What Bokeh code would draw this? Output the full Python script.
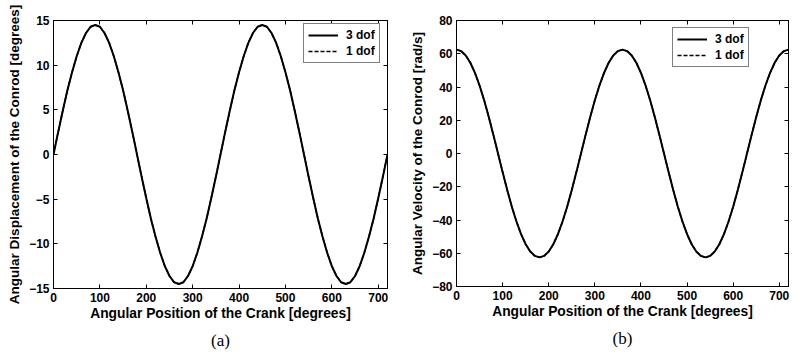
from bokeh.plotting import figure
from bokeh.layouts import row
from bokeh.models import (LinearAxis, Range1d, Legend, LegendItem, Title,
                          FixedTicker, CustomJSTickFormatter)
from bokeh.embed import file_html
from bokeh.resources import INLINE

# ---------------- data ----------------
crank_angle = [0, 10, 20, 30, 40, 50, 60, 70, 80, 90, 100, 110, 120, 130, 140, 150, 160, 170,
               180, 190, 200, 210, 220, 230, 240, 250, 260, 270, 280, 290, 300, 310, 320, 330,
               340, 350, 360, 370, 380, 390, 400, 410, 420, 430, 440, 450, 460, 470, 480, 490,
               500, 510, 520, 530, 540, 550, 560, 570, 580, 590, 600, 610, 620, 630, 640, 650,
               660, 670, 680, 690, 700, 710, 720]

disp_3dof = [0, 2.5, 4.9, 7.2, 9.2, 11.0, 12.5, 13.6, 14.3, 14.5, 14.3, 13.6, 12.5, 11.0, 9.2,
             7.2, 4.9, 2.5, 0, -2.5, -4.9, -7.2, -9.2, -11.0, -12.5, -13.6, -14.3, -14.5, -14.3,
             -13.6, -12.5, -11.0, -9.2, -7.2, -4.9, -2.5, 0,
             2.5, 4.9, 7.2, 9.2, 11.0, 12.5, 13.6, 14.3, 14.5, 14.3, 13.6, 12.5, 11.0, 9.2,
             7.2, 4.9, 2.5, 0, -2.5, -4.9, -7.2, -9.2, -11.0, -12.5, -13.6, -14.3, -14.5, -14.3,
             -13.6, -12.5, -11.0, -9.2, -7.2, -4.9, -2.5, 0]
disp_1dof = [0, 2.5, 4.9, 7.2, 9.2, 11.0, 12.5, 13.6, 14.3, 14.5, 14.3, 13.6, 12.5, 11.0, 9.2,
             7.2, 4.9, 2.5, 0, -2.5, -4.9, -7.2, -9.2, -11.0, -12.5, -13.6, -14.3, -14.5, -14.3,
             -13.6, -12.5, -11.0, -9.2, -7.2, -4.9, -2.5, 0,
             2.5, 4.9, 7.2, 9.2, 11.0, 12.5, 13.6, 14.3, 14.5, 14.3, 13.6, 12.5, 11.0, 9.2,
             7.2, 4.9, 2.5, 0, -2.5, -4.9, -7.2, -9.2, -11.0, -12.5, -13.6, -14.3, -14.5, -14.3,
             -13.6, -12.5, -11.0, -9.2, -7.2, -4.9, -2.5, 0]

vel_3dof = [62.5, 61.6, 59.0, 54.6, 48.5, 40.9, 32.0, 22.0, 11.2, 0, -11.2, -22.0, -32.0, -40.9,
            -48.5, -54.6, -59.0, -61.6, -62.5, -61.6, -59.0, -54.6, -48.5, -40.9, -32.0, -22.0,
            -11.2, 0, 11.2, 22.0, 32.0, 40.9, 48.5, 54.6, 59.0, 61.6, 62.5,
            61.6, 59.0, 54.6, 48.5, 40.9, 32.0, 22.0, 11.2, 0, -11.2, -22.0, -32.0, -40.9,
            -48.5, -54.6, -59.0, -61.6, -62.5, -61.6, -59.0, -54.6, -48.5, -40.9, -32.0, -22.0,
            -11.2, 0, 11.2, 22.0, 32.0, 40.9, 48.5, 54.6, 59.0, 61.6, 62.5]
vel_1dof = [62.5, 61.6, 59.0, 54.6, 48.5, 40.9, 32.0, 22.0, 11.2, 0, -11.2, -22.0, -32.0, -40.9,
            -48.5, -54.6, -59.0, -61.6, -62.5, -61.6, -59.0, -54.6, -48.5, -40.9, -32.0, -22.0,
            -11.2, 0, 11.2, 22.0, 32.0, 40.9, 48.5, 54.6, 59.0, 61.6, 62.5,
            61.6, 59.0, 54.6, 48.5, 40.9, 32.0, 22.0, 11.2, 0, -11.2, -22.0, -32.0, -40.9,
            -48.5, -54.6, -59.0, -61.6, -62.5, -61.6, -59.0, -54.6, -48.5, -40.9, -32.0, -22.0,
            -11.2, 0, 11.2, 22.0, 32.0, 40.9, 48.5, 54.6, 59.0, 61.6, 62.5]

x_ticks = [0, 100, 200, 300, 400, 500, 600, 700]
disp_ticks = [-15, -10, -5, 0, 5, 10, 15]
vel_ticks = [-80, -60, -40, -20, 0, 20, 40, 60, 80]

SANS = "Liberation Sans"
SERIF = "Liberation Serif"


def style_axis(ax, ticks, label=None, label_size="13.5px", label_standoff=4,
               show_labels=True):
    ax.ticker = FixedTicker(ticks=ticks)
    ax.major_tick_in = 4
    ax.major_tick_out = 0
    ax.minor_tick_line_color = None
    ax.axis_line_color = "black"
    ax.major_tick_line_color = "black"
    ax.major_label_text_font = SANS
    ax.major_label_text_font_style = "bold"
    ax.major_label_text_font_size = "12px"
    ax.major_label_text_color = "black"
    ax.major_label_standoff = 4
    if label:
        ax.axis_label = label
        ax.axis_label_text_font = SANS
        ax.axis_label_text_font_style = "bold"
        ax.axis_label_text_font_size = label_size
        ax.axis_label_text_color = "black"
        ax.axis_label_standoff = label_standoff
    if not show_labels:
        ax.formatter = CustomJSTickFormatter(code="return ''")
        ax.major_label_standoff = 0
        ax.major_label_text_font_size = "1px"


def make_panel(y, y_1, y_range, y_ticks, y_label, caption, frame_w, frame_h, left, top,
               right, legend_loc):
    p = figure(output_backend="svg", toolbar_location=None,
               frame_width=frame_w, frame_height=frame_h,
               x_range=Range1d(0, 720), y_range=Range1d(*y_range),
               min_border_left=left, min_border_top=top, min_border_right=right,
               min_border_bottom=0,
               background_fill_color="white", border_fill_color="white")
    p.outline_line_color = "black"
    p.outline_line_width = 1
    p.grid.visible = False
    style_axis(p.xaxis[0], x_ticks, "Angular Position of the Crank [degrees]", "13.8px", 1)
    style_axis(p.yaxis[0], y_ticks, y_label, "13.5px", 4)
    top_ax = LinearAxis()
    style_axis(top_ax, x_ticks, show_labels=False)
    p.add_layout(top_ax, "above")
    right_ax = LinearAxis()
    style_axis(right_ax, y_ticks, show_labels=False)
    p.add_layout(right_ax, "right")

    r1 = p.line(crank_angle, y, line_color="black", line_width=2)
    r2 = p.line(crank_angle, y_1, line_color="black", line_width=1.5, line_dash="4 2")

    legend = Legend(items=[LegendItem(label="3 dof", renderers=[r1]),
                           LegendItem(label="1 dof", renderers=[r2])],
                    location=legend_loc)
    legend.label_text_font = SANS
    legend.label_text_font_style = "bold"
    legend.label_text_font_size = "12px"
    legend.label_text_color = "black"
    legend.border_line_color = "black"
    legend.border_line_width = 1
    legend.background_fill_alpha = 1
    legend.glyph_width = 30
    legend.glyph_height = 14
    legend.label_height = 14
    legend.spacing = 2
    legend.padding = 4
    legend.margin = 0
    legend.label_standoff = 8
    p.add_layout(legend, "center")

    cap = Title(text=caption, align="center", text_font=SERIF, text_font_size="17px",
                text_font_style="normal", text_color="black", standoff=10)
    p.add_layout(cap, "below")
    return p


p1 = make_panel(disp_3dof, disp_1dof, (-15, 15), disp_ticks,
                "Angular Displacement of the Conrod [degrees]", "(a)", 334, 268,
                53, 18, 13, (250, 225))
p2 = make_panel(vel_3dof, vel_1dof, (-80, 80), vel_ticks,
                "Angular Velocity of the Conrod [rad/s]", "(b)", 332, 266,
                56, 20, 5, (216, 219))

layout = row(p1, p2, spacing=0)

with open("out.html", "w") as f:
    f.write(file_html(layout, INLINE))
